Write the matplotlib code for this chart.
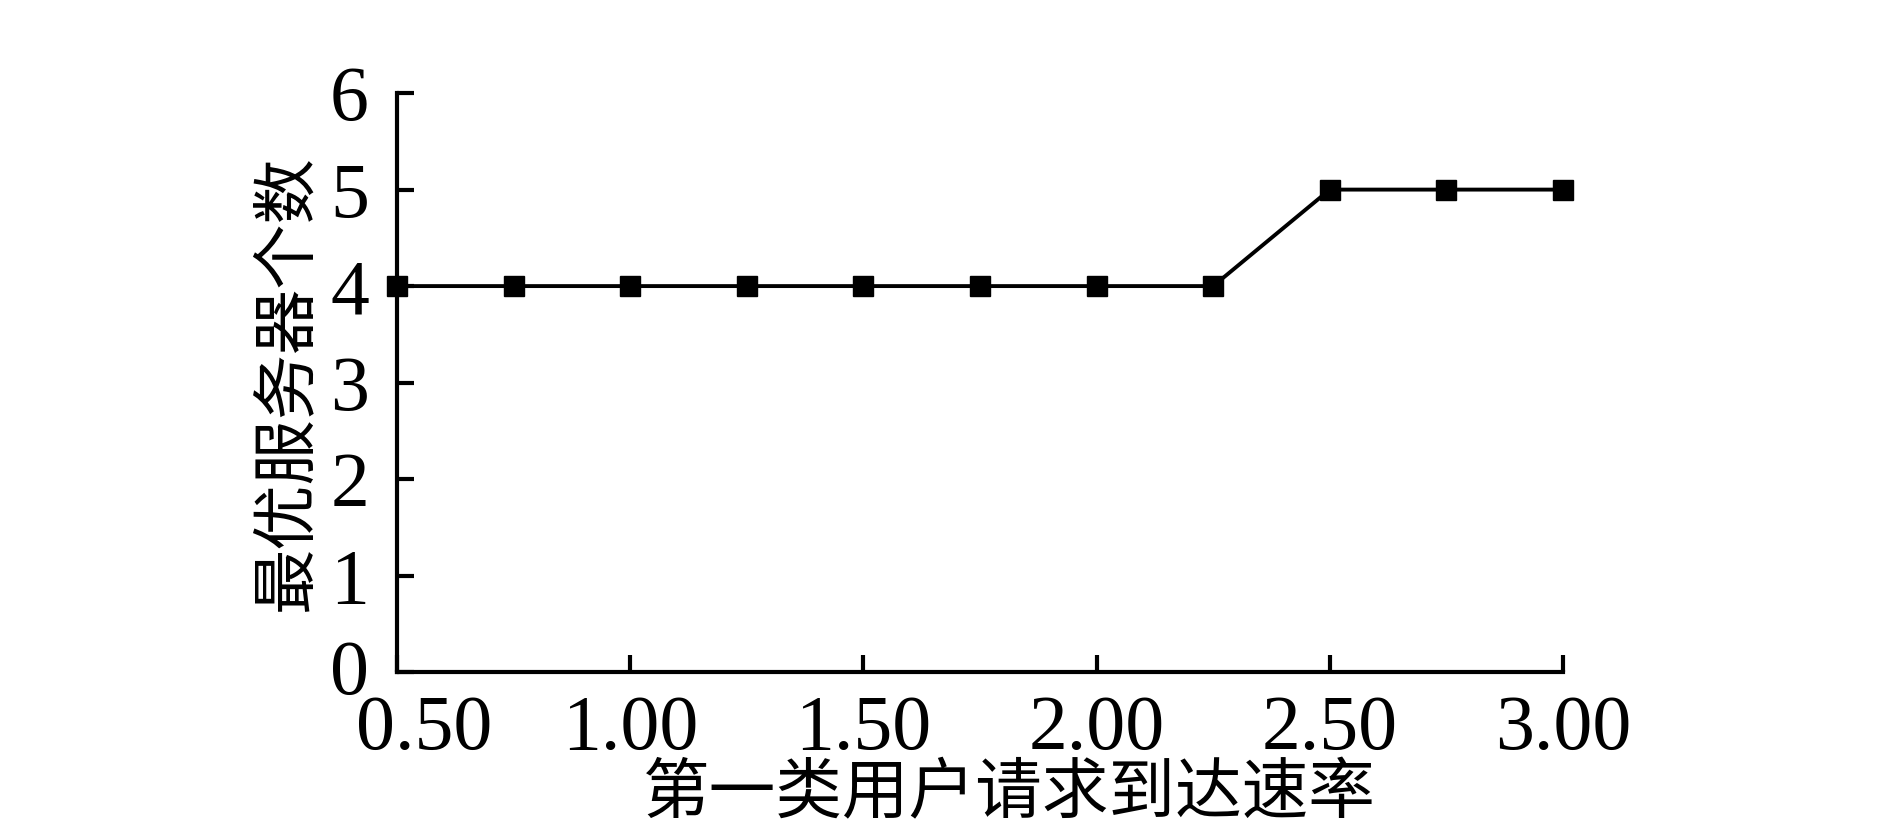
import matplotlib
matplotlib.use("Agg")
import matplotlib.pyplot as plt
from matplotlib.transforms import ScaledTranslation

# arrival rate of class-1 user requests vs optimal number of servers
rate = [0.50, 0.75, 1.00, 1.25, 1.50, 1.75, 2.00, 2.25, 2.50, 2.75, 3.00]
servers = [4, 4, 4, 4, 4, 4, 4, 4, 5, 5, 5]
xticks = [0.50, 1.00, 1.50, 2.00, 2.50, 3.00]
yticks = [0, 1, 2, 3, 4, 5, 6]

num_font = ['Liberation Serif', 'DejaVu Serif']
cjk_font = ['Noto Sans CJK SC', 'DejaVu Sans']

fig = plt.figure(figsize=(18.9, 8.27), dpi=100)
ax = fig.add_axes([0.210, 0.1874, 0.617, 0.700])

ax.plot(rate, servers, color='black', linewidth=2.8, marker='s',
        markersize=15, markerfacecolor='black', markeredgecolor='black',
        clip_on=False, zorder=3)

ax.set_xlim(0.5, 3.0)
ax.set_ylim(0, 6)
ax.set_xticks(xticks)
ax.set_yticks(yticks)
ax.set_xticklabels(["%.2f" % t for t in xticks], family=num_font, fontsize=56)
ax.set_yticklabels([str(t) for t in yticks], family=num_font, fontsize=56)

for side in ['top', 'right']:
    ax.spines[side].set_visible(False)
for side in ['left', 'bottom']:
    ax.spines[side].set_linewidth(3.0)

ax.tick_params(direction='in', length=12, width=3.0)
ax.tick_params(axis='y', pad=20)
ax.tick_params(axis='x', pad=16)

# the first x label sits a bit to the right so it clears the "0"
first = ax.get_xticklabels()[0]
first.set_transform(first.get_transform() + ScaledTranslation(0.27, 0, fig.dpi_scale_trans))
# and the "0" sits a touch higher
zero = ax.get_yticklabels()[0]
zero.set_transform(zero.get_transform() + ScaledTranslation(0, 0.05, fig.dpi_scale_trans))

ax.set_xlabel('第一类用户请求到达速率', family=cjk_font, fontsize=48)
ax.set_ylabel('最优服务器个数', family=cjk_font, fontsize=47)
ax.xaxis.label.set_va('center')
ax.yaxis.label.set_va('center')
ax.xaxis.set_label_coords(0.525, -0.212)
ax.yaxis.set_label_coords(-0.094, 0.5)

fig.savefig('out.png', dpi=100, facecolor='white')
